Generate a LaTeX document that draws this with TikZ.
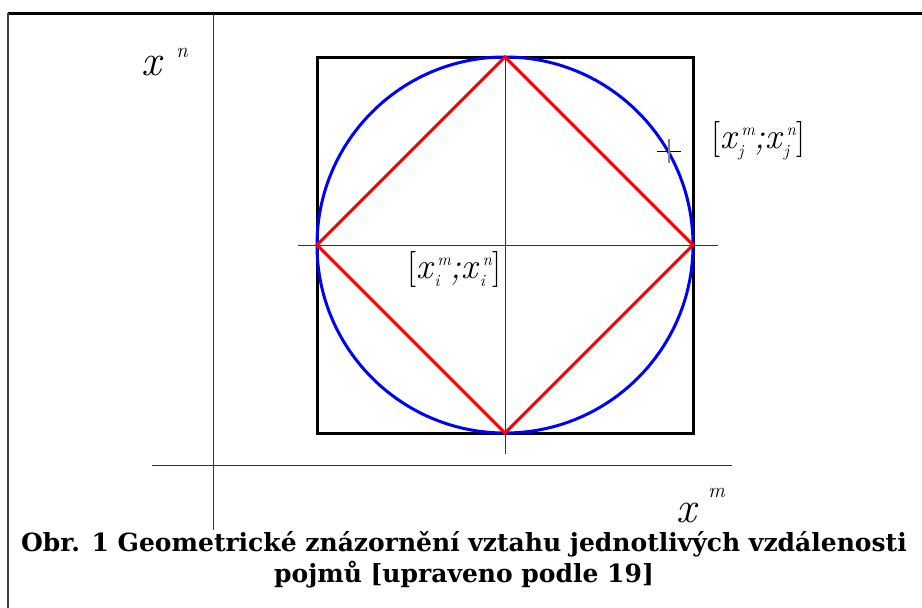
\documentclass[tikz,border=0pt]{standalone}
\usepackage{fontspec}
\newfontfamily\capfont{DejaVu Serif}
\newcommand{\subsz}{\fontsize{17}{17}\selectfont\itshape}
\newcommand{\xij}[2]{\textit{x}\makebox[0pt][l]{\raisebox{-0.24em}{\subsz #1}}\hspace{0.08em}\raisebox{0.36em}{\subsz #2}}
\begin{document}
\begin{tikzpicture}[x=1pt,y=-1pt,
  axis/.style={draw=black!80,line width=0.9pt},
  sq/.style={draw=black,line width=3pt},
  circ/.style={draw=blue,line width=3pt},
  dia/.style={draw=red,line width=3pt},
  lbl/.style={inner sep=0pt,font=\fontsize{36}{36}\selectfont},
  axlbl/.style={inner sep=0pt,font=\fontsize{44}{44}\selectfont\itshape},
  sup/.style={inner sep=0pt,font=\fontsize{21}{21}\selectfont\itshape},
  captext/.style={inner sep=0pt,font=\capfont\bfseries\fontsize{25}{30}\selectfont}]
\useasboundingbox (0,0) rectangle (922,608);
\fill[white] (0,0) rectangle (922,608);
% frame
\draw[black,line width=3pt] (7.5,13.5) -- (930,13.5);
\draw[black!75,line width=1.6pt] (8,13) -- (8,620);
% main axes
\coordinate (vt) at (213,14);
\coordinate (vb) at (213,530);
\coordinate (hl) at (152,465);
\coordinate (hr) at (732,465);
\draw[axis] (vt) -- (vb);
\draw[axis] (hl) -- (hr);
% inner cross
\coordinate (c) at (505,245);
\coordinate (ct) at (505,57);
\coordinate (cb) at (505,454);
\coordinate (cl) at (298,245);
\coordinate (cr) at (718,245);
\draw[axis] (ct) -- (cb);
\draw[axis] (cl) -- (cr);
% square
\coordinate (s1) at (317,57);
\coordinate (s2) at (693,433);
\draw[sq] (s1) rectangle (s2);
% circle
\draw[circ] (c) circle[radius=188];
% diamond
\coordinate (d1) at (505,57);
\coordinate (d2) at (693,245);
\coordinate (d3) at (505,433);
\coordinate (d4) at (317,245);
\draw[dia,line join=miter] (d1) -- (d2) -- (d3) -- (d4) -- cycle;
% small cross
\coordinate (pj) at (669,151);
\draw[black,line width=1pt] ([xshift=-12]pj) -- ([xshift=12]pj);
\draw[black!50,line width=1.6pt] ([yshift=-12]pj) -- ([yshift=12]pj);
% labels
\node[axlbl,anchor=base west] (xn) at (141,75) {x};
\node[sup,anchor=base west] (xnsup) at (176,57) {n};
\node[axlbl,anchor=base west] (xm) at (676,522) {x};
\node[sup,anchor=base west] (xmsup) at (708,497) {m};
\node[lbl,anchor=base west] (lj) at (711,148) {[\xij{j}{m}\textit{;}\xij{j}{n}]};
\node[lbl,anchor=base west] (li) at (407,278) {[\xij{i}{m}\textit{;}\xij{i}{n}]};
% caption
\node[captext,anchor=base] (cap1) at (464,551) {Obr. 1 Geometrické znázornění vztahu jednotlivých vzdálenosti};
\node[captext,anchor=base] (cap2) at (464,582) {pojmů [upraveno podle 19]};
\end{tikzpicture}
\end{document}
